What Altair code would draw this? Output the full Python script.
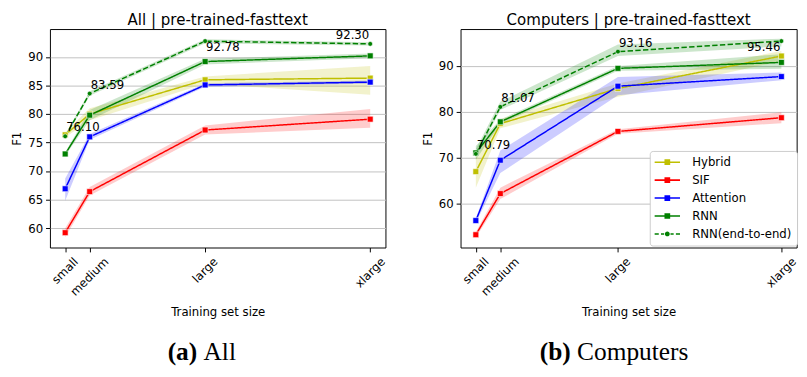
import altair as alt
import pandas as pd

SIZE_NAMES = ["small", "medium", "large", "xlarge"]
ALL_SIZES = [9038, 25567, 103411, 214736]
COMP_SIZES = [2834, 8094, 33359, 68461]
SERIES = ["Hybrid", "SIF", "Attention", "RNN", "RNN(end-to-end)"]
COLORS = ["#bfbf00", "#ff0000", "#0000ff", "#008000", "#008000"]

# panel (a) All
ALL_HYBRID = [76.35, 80.0, 86.0, 86.3]
ALL_HYBRID_LO = [75.9, 78.9, 85.3, 83.4]
ALL_HYBRID_HI = [76.8, 81.0, 86.6, 88.4]
ALL_SIF = [59.2, 66.4, 77.2, 79.1]
ALL_SIF_LO = [58.4, 65.7, 76.4, 77.6]
ALL_SIF_HI = [60.0, 67.2, 78.0, 80.9]
ALL_ATT = [66.9, 76.0, 85.1, 85.6]
ALL_ATT_LO = [64.8, 75.5, 84.8, 85.3]
ALL_ATT_HI = [68.7, 76.5, 85.4, 85.9]
ALL_RNN = [73.0, 79.8, 89.2, 90.2]
ALL_RNN_LO = [72.7, 78.9, 88.7, 89.8]
ALL_RNN_HI = [73.3, 80.7, 89.7, 90.6]
ALL_E2E = [76.10, 83.59, 92.78, 92.30]
ALL_E2E_LO = [75.8, 83.2, 92.4, 92.0]
ALL_E2E_HI = [76.4, 84.0, 93.1, 92.6]

# panel (b) Computers
COMP_HYBRID = [66.9, 77.4, 85.1, 92.2]
COMP_HYBRID_LO = [63.4, 76.4, 83.3, 91.1]
COMP_HYBRID_HI = [70.4, 78.4, 86.2, 93.3]
COMP_SIF = [53.1, 62.1, 75.7, 78.7]
COMP_SIF_LO = [52.5, 60.9, 75.2, 77.5]
COMP_SIF_HI = [53.7, 63.4, 76.2, 79.9]
COMP_ATT = [56.2, 69.4, 85.6, 87.7]
COMP_ATT_LO = [55.7, 66.6, 83.6, 86.9]
COMP_ATT_HI = [56.7, 71.5, 87.6, 88.6]
COMP_RNN = [71.0, 77.8, 89.5, 90.8]
COMP_RNN_LO = [69.5, 77.3, 89.0, 89.4]
COMP_RNN_HI = [72.5, 78.3, 90.0, 92.6]
COMP_E2E = [70.79, 81.07, 93.16, 95.46]
COMP_E2E_LO = [70.0, 80.4, 92.2, 94.3]
COMP_E2E_HI = [71.8, 82.2, 94.7, 96.0]

FONT = "DejaVu Sans"
E2E = SERIES[-1]

# legend glyphs: line + marker (path units: 1 = half the nominal symbol size)
SOLID_SQ = "M-2,-0.12H2V0.12H-2Z M-0.45,-0.45H0.45V0.45H-0.45Z"
DASH_CIRC = ("M-2,-0.12H-1.35V0.12H-2Z M-1.0,-0.12H-0.5V0.12H-1.0Z "
             "M0.5,-0.12H1.0V0.12H0.5Z M1.35,-0.12H2V0.12H1.35Z "
             "M0.38,0A0.38,0.38 0 1,1 -0.38,0A0.38,0.38 0 1,1 0.38,0Z")
LEGEND_SHAPES = [SOLID_SQ, SOLID_SQ, SOLID_SQ, SOLID_SQ, DASH_CIRC]


def panel_df(sizes, triples):
    rows = []
    for name, (mean, lo, hi) in zip(SERIES, triples):
        for i in range(len(sizes)):
            rows.append(dict(series=name, size=sizes[i], f1=mean[i], lo=lo[i], hi=hi[i]))
    return pd.DataFrame(rows)


def label_df(sizes, vals, places):
    return pd.DataFrame(dict(size=sizes, f1=vals, txt=[f"{v:.2f}" for v in vals], place=places))


def label_width(s):
    w = {"s": .521, "m": .974, "a": .613, "l": .278, "e": .615, "d": .635, "i": .278,
         "u": .634, "r": .411, "g": .635, "x": .592}
    return sum(w[c] for c in s) * 12


def panel(df, ldf, sizes, title, ydom, yticks, frac, width, cap_bold, cap_rest, cap_x, legend):
    R = sizes[-1] - sizes[0]
    xdom = [sizes[0] - frac[0] * R, sizes[-1] + frac[1] * R]
    lab_expr = " : ".join(f"datum.value == {s} ? '{n}'" for s, n in zip(sizes, SIZE_NAMES)) + " : ''"
    off_expr = " : ".join(
        f"datum.value == {s} ? {round((label_width(n) - 12) * 0.354, 1)}" for s, n in zip(sizes, SIZE_NAMES)
    ) + " : 0"
    xaxis = alt.Axis(values=sizes, labelExpr=lab_expr, title="Training set size", grid=False,
                     labelAngle=315, labelAlign="right", labelBaseline="top",
                     labelOverlap=False, labelFlush=False,
                     labelOffset={"expr": off_expr}, labelPadding=4, titlePadding=10)
    xs = alt.Scale(domain=xdom, nice=False, zero=False)
    ys = alt.Scale(domain=ydom, nice=False, zero=False)
    yaxis = alt.Axis(values=yticks, title="F1", grid=True)
    X = alt.X("size:Q", scale=xs, axis=xaxis)
    cscale = alt.Scale(domain=SERIES, range=COLORS)

    base = alt.Chart(df)
    layers = []
    if legend:
        lg = alt.Legend(title=None, orient="none", legendX=194, legendY=125,
                        labelFont=FONT, labelFontSize=12, labelColor="black",
                        symbolSize=169, symbolOffset=6.5, labelOffset=19, rowPadding=5.4,
                        symbolOpacity=1, symbolStrokeWidth=0, padding=5,
                        strokeColor="#cccccc", fillColor="white", cornerRadius=3)
        layers.append(base.mark_point(filled=True, opacity=0, size=1).encode(
            x=X, y=alt.Y("f1:Q", scale=ys, axis=yaxis),
            color=alt.Color("series:N", scale=cscale, legend=lg),
            shape=alt.Shape("series:N", scale=alt.Scale(domain=SERIES, range=LEGEND_SHAPES), legend=lg)))

    band = base.mark_area(opacity=0.2).encode(
        x=X, y=alt.Y("lo:Q", scale=ys, axis=yaxis), y2="hi:Q",
        color=alt.Color("series:N", scale=cscale, legend=None))
    lines = base.mark_line(strokeWidth=1.5).encode(
        x=X, y=alt.Y("f1:Q", scale=ys, axis=yaxis),
        color=alt.Color("series:N", scale=cscale, legend=None),
        strokeDash=alt.StrokeDash("series:N", scale=alt.Scale(
            domain=SERIES, range=[[1, 0], [1, 0], [1, 0], [1, 0], [5.5, 2.4]]), legend=None))
    sq = base.transform_filter(f"datum.series != '{E2E}'").mark_point(
        shape="square", filled=True, size=36, opacity=1, stroke="white", strokeWidth=0.6).encode(
        x=X, y=alt.Y("f1:Q", scale=ys, axis=yaxis),
        color=alt.Color("series:N", scale=cscale, legend=None))
    circ = base.transform_filter(f"datum.series == '{E2E}'").mark_point(
        shape="circle", filled=True, size=24, opacity=1, stroke="white", strokeWidth=0.6).encode(
        x=X, y=alt.Y("f1:Q", scale=ys, axis=yaxis),
        color=alt.Color("series:N", scale=cscale, legend=None))

    layers += [band, lines, sq, circ]
    tb = alt.Chart(ldf)
    for place, align, dx, dy in [("al", "left", 1, -5), ("bl", "left", 1, 10.5),
                                 ("ar", "right", -1, -5), ("br", "right", -1, 10.5)]:
        layers.append(tb.transform_filter(f"datum.place == '{place}'").mark_text(
            align=align, baseline="alphabetic", dx=dx, dy=dy, font=FONT, fontSize=12, color="black").encode(
            x=X, y=alt.Y("f1:Q", scale=ys, axis=yaxis), text="txt:N"))

    layers.append(alt.Chart(pd.DataFrame({"t": [cap_bold]})).mark_text(
        align="right", baseline="alphabetic", font="Liberation Serif", fontSize=26,
        fontWeight="bold", color="black").encode(text="t:N", x=alt.value(cap_x), y=alt.value(339)))
    layers.append(alt.Chart(pd.DataFrame({"t": [cap_rest]})).mark_text(
        align="left", baseline="alphabetic", font="Liberation Serif", fontSize=26,
        color="black").encode(text="t:N", x=alt.value(cap_x + 6.5), y=alt.value(339)))

    return alt.layer(*layers).properties(
        width=width, height=224,
        title=alt.TitleParams(title, font=FONT, fontSize=15.4, fontWeight="normal",
                              color="black", anchor="middle", offset=1))


all_df = panel_df(ALL_SIZES, [(ALL_HYBRID, ALL_HYBRID_LO, ALL_HYBRID_HI), (ALL_SIF, ALL_SIF_LO, ALL_SIF_HI),
                              (ALL_ATT, ALL_ATT_LO, ALL_ATT_HI), (ALL_RNN, ALL_RNN_LO, ALL_RNN_HI),
                              (ALL_E2E, ALL_E2E_LO, ALL_E2E_HI)])
comp_df = panel_df(COMP_SIZES, [(COMP_HYBRID, COMP_HYBRID_LO, COMP_HYBRID_HI), (COMP_SIF, COMP_SIF_LO, COMP_SIF_HI),
                                (COMP_ATT, COMP_ATT_LO, COMP_ATT_HI), (COMP_RNN, COMP_RNN_LO, COMP_RNN_HI),
                                (COMP_E2E, COMP_E2E_LO, COMP_E2E_HI)])
all_lab = label_df(ALL_SIZES, ALL_E2E, ["al", "al", "bl", "ar"])
comp_lab = label_df(COMP_SIZES, COMP_E2E, ["al", "al", "al", "br"])

left = panel(all_df, all_lab, ALL_SIZES, "All | pre-trained-fasttext", [56.6, 94.9],
             [60, 65, 70, 75, 80, 85, 90], (0.05, 0.05), 344, "(a)", "All", 151, False)
right = panel(comp_df, comp_lab, COMP_SIZES, "Computers | pre-trained-fasttext", [50.3, 98.1],
              [60, 70, 80, 90], (0.05, 0.05), 344.6, "(b)", "Computers", 113, True)

chart = alt.hconcat(left, right, spacing=34).resolve_scale(
    x="independent", y="independent", color="independent", shape="independent", strokeDash="independent"
).resolve_legend(color="independent", shape="independent").configure(
    padding={"left": 2, "top": 0, "right": 0, "bottom": 0}, background="white"
).configure_view(stroke="black", strokeWidth=1).configure_axis(
    labelFont=FONT, labelFontSize=12, labelColor="black", titleFont=FONT, titleFontSize=12,
    titleFontWeight="normal", titleColor="black", tickColor="black", tickSize=4.5, domain=False,
    gridColor="#c0c0c0", gridWidth=1, labelPadding=3, titlePadding=4
)

chart.save("out.html", embed_options={"renderer": "svg", "actions": False})
